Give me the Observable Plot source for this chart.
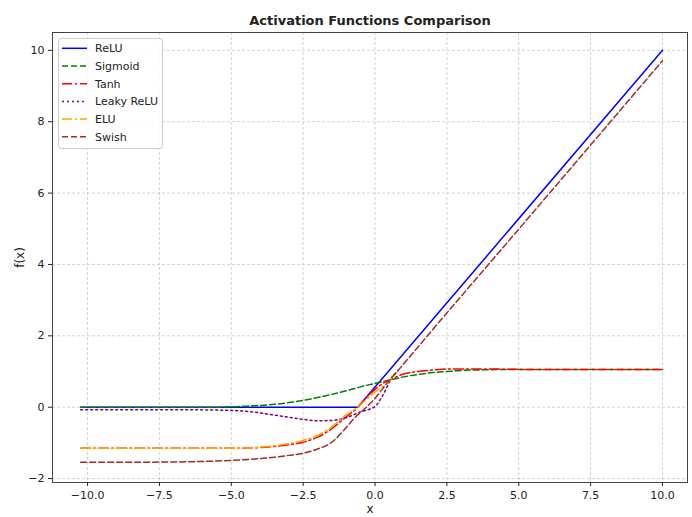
<!DOCTYPE html>
<html><head><meta charset="utf-8">
<script src="https://cdn.jsdelivr.net/npm/d3@7"></script>
<script src="https://cdn.jsdelivr.net/npm/@observablehq/plot@0.6"></script>
<style>body{margin:0;background:#fff}</style>
</head><body><div id="chart"></div>
<script>
const xTicks = [-10, -7.5, -5, -2.5, 0, 2.5, 5, 7.5, 10];
const yTicks = [-2, 0, 2, 4, 6, 8, 10];

const reluX = [-10.24, -0.6, 10];
const reluY = [0, 0, 10];

const sigmoidX = [-10.24, -6, -5, -4.5, -4, -3.5, -3, -2.5, -2, -1.5, -1, -0.5, 0, 0.5, 1, 1.5, 2, 2.5, 3, 4, 5, 7.5, 10];
const sigmoidY = [0, 0, 0.01, 0.03, 0.05, 0.08, 0.13, 0.19, 0.27, 0.36, 0.46, 0.57, 0.67, 0.76, 0.85, 0.92, 0.97, 1.0, 1.03, 1.05, 1.06, 1.06, 1.06];

const tanhX = [-10.24, -5, -4, -3.5, -3, -2.5, -2, -1.5, -1.1, -0.6, -0.3, 0, 0.3, 0.6, 1.0, 1.5, 2, 2.5, 3, 4, 5, 7.5, 10];
const tanhY = [-1.15, -1.15, -1.13, -1.10, -1.05, -0.98, -0.84, -0.60, -0.33, 0.0, 0.27, 0.50, 0.68, 0.80, 0.93, 1.0, 1.04, 1.07, 1.07, 1.07, 1.06, 1.06, 1.06];

const leakyX = [-10.24, -7, -5, -4, -3.5, -3, -2.5, -2, -1.5, -1, -0.5, 0, 0.3, 0.6, 0.8];
const leakyY = [-0.07, -0.07, -0.09, -0.16, -0.22, -0.28, -0.34, -0.38, -0.37, -0.29, -0.13, 0.02, 0.38, 0.85, 1.03];

const eluX = [-10.24, -5, -4, -3.5, -3, -2.5, -2, -1.5, -1.1, -0.6, -0.3, 0, 0.4, 0.8];
const eluY = [-1.15, -1.15, -1.12, -1.08, -1.02, -0.93, -0.79, -0.55, -0.27, 0.0, 0.22, 0.42, 0.66, 1.03];

const swishX = [-10.24, -8, -6, -5, -4, -3.5, -3, -2.5, -2, -1.5, -1.1, -0.7, -0.3, 0, 0.4, 0.8, 2, 5, 10];
const swishY = [-1.54, -1.54, -1.52, -1.49, -1.44, -1.40, -1.35, -1.29, -1.17, -0.98, -0.66, -0.29, 0.0, 0.25, 0.66, 1.03, 2.17, 4.99, 9.71];

const series = [
  {name: "ReLU", xs: reluX, ys: reluY, color: "#0000ff", dash: null, curve: "linear"},
  {name: "Sigmoid", xs: sigmoidX, ys: sigmoidY, color: "#008000", dash: "6,3", curve: "monotone-x"},
  {name: "Tanh", xs: tanhX, ys: tanhY, color: "#ff0000", dash: "10,3,2,3", curve: "monotone-x"},
  {name: "Leaky ReLU", xs: leakyX, ys: leakyY, color: "#800080", dash: "2,3", curve: "monotone-x"},
  {name: "ELU", xs: eluX, ys: eluY, color: "#ffa500", dash: "10,3,2,3", curve: "monotone-x"},
  {name: "Swish", xs: swishX, ys: swishY, color: "#a52a2a", dash: "6,3", curve: "monotone-x"}
];

const gridStyle = {stroke: "#b0b0b0", strokeOpacity: 0.55, strokeDasharray: "3,2"};

const plot = Plot.plot({
  width: 692,
  height: 517,
  marginLeft: 52,
  marginRight: 5,
  marginTop: 32,
  marginBottom: 35,
  style: {fontFamily: "DejaVu Sans", fontSize: "11px", color: "#222", background: "#fff"},
  x: {domain: [-11.22, 10.87]},
  y: {domain: [-2.11, 10.5]},
  marks: [
    Plot.gridX(xTicks, gridStyle),
    Plot.gridY(yTicks, gridStyle),
    ...series.map(s => Plot.line(s.xs.map((x, i) => ({x, y: s.ys[i]})), {
      x: "x", y: "y", stroke: s.color, strokeWidth: 1.5,
      strokeDasharray: s.dash, curve: s.curve
    })),
    Plot.frame({stroke: "#444"}),
    Plot.axisX(xTicks, {tickFormat: d3.format(".1f"), tickSize: 4, tickPadding: 5, label: null}),
    Plot.axisY(yTicks, {tickFormat: d3.format("d"), tickSize: 4, tickPadding: 4, label: null}),
    Plot.text(["Activation Functions Comparison"], {text: d => d, frameAnchor: "top", lineAnchor: "middle", dy: -12, fontWeight: "bold", fontSize: 13}),
    Plot.text(["x"], {text: d => d, frameAnchor: "bottom", lineAnchor: "middle", dy: 27, fontSize: 12}),
    Plot.text(["f(x)"], {text: d => d, frameAnchor: "left", textAnchor: "middle", dx: -32, rotate: -90, fontSize: 12})
  ]
});

// Legend
const svg = d3.select(plot);
const lg = svg.append("g").attr("text-anchor", "start");
lg.append("rect").attr("x", 58.5).attr("y", 38.5).attr("width", 104).attr("height", 110)
  .attr("rx", 3).attr("fill", "#fff").attr("fill-opacity", 0.85).attr("stroke", "#ccc");
series.forEach((s, i) => {
  const y = 48.3 + i * 17.7;
  lg.append("line").attr("x1", 62).attr("x2", 87).attr("y1", y).attr("y2", y)
    .attr("stroke", s.color).attr("stroke-width", 1.5)
    .attr("stroke-dasharray", s.dash);
  lg.append("text").attr("x", 95).attr("y", y).attr("dy", "0.35em")
    .attr("text-anchor", "start")
    .attr("font-size", 11).attr("fill", "#222").text(s.name);
});

document.getElementById("chart").append(plot);
</script>
</body></html>
